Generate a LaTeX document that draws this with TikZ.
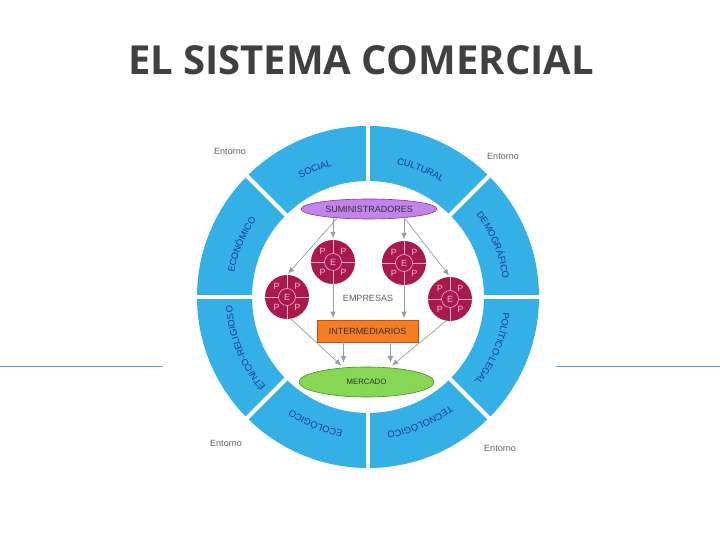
\documentclass[tikz,border=0pt]{standalone}
\usepackage{fontspec}
\setsansfont{Liberation Sans}
\newfontfamily\titlefont{Open Sans}
\usepackage{tikz}
\usepackage{xcolor}
\usetikzlibrary{arrows.meta,calc,shapes.geometric,decorations.text}
\definecolor{figTitle}{RGB}{64,64,64}
\definecolor{figRing}{RGB}{52,176,230}
\definecolor{figSeg}{RGB}{30,55,150}
\definecolor{figCrimson}{RGB}{170,25,75}
\definecolor{figPink}{RGB}{245,180,205}
\definecolor{figSumFill}{RGB}{196,130,235}
\definecolor{figSumDraw}{RGB}{120,60,160}
\definecolor{figInterFill}{RGB}{245,125,35}
\definecolor{figInterDraw}{RGB}{190,80,20}
\definecolor{figMercFill}{RGB}{135,215,85}
\definecolor{figMercDraw}{RGB}{70,140,40}
\definecolor{figArrow}{RGB}{155,155,165}
\definecolor{figRule}{RGB}{90,165,215}
\definecolor{figGray}{RGB}{95,95,95}

\begin{document}
\begin{tikzpicture}[
  x=1pt,
  y=1pt,
  >=Latex,
  font=\sffamily,
  empresa/.style={circle, fill=figCrimson, minimum size=44pt, inner sep=0pt},
  cross/.style={draw=figPink, line width=0.6pt},
  pletter/.style={text=figPink, inner sep=0pt, font=\sffamily\fontsize{9}{9}\selectfont},
  oval/.style={ellipse, line width=0.6pt, inner sep=0pt, text=black!80},
  entorno/.style={text=figGray, font=\sffamily\fontsize{9}{9}\selectfont},
  line/.style={-{Latex[length=6.5pt,width=5.5pt]}, draw=figArrow, line width=0.7pt, shorten >=1.5pt}
]
\useasboundingbox (0,0) rectangle (720,540);

% title
\node[anchor=base, text=figTitle, font=\titlefont\bfseries\fontsize{40}{40}\selectfont] (title) at (361,465) {EL SISTEMA COMERCIAL};

% side rules
\draw[figRule, line width=0.8pt] (0,174) -- (163,174);
\draw[figRule, line width=0.8pt] (556,174) -- (720,174);

% ring of the environment
\coordinate (c) at (368,243);
\fill[figRing, even odd rule] (c) circle[radius=171] (c) circle[radius=116];
\foreach \a in {0,45,...,315}
  \draw[white, line width=4pt] ($(c)+(\a:114)$) -- ($(c)+(\a:173)$);

\foreach \t/\m in {SOCIAL/112.5, CULTURAL/67.5, DEMOGRÁFICO/22.5, POLÍTICO-LEGAL/-22.5,
                   TECNOLÓGICO/-67.5, ECOLÓGICO/-112.5, ÉTNICO-RELIGIOSO/-157.5, ECONÓMICO/157.5}
  \path[decorate, decoration={text along path, text align=center,
      text={|\sffamily\fontsize{9.3}{9.3}\selectfont\color{figSeg}|\t}}]
    ($(c)+(\m+22.5:136)$) arc[start angle=\m+22.5, end angle=\m-22.5, radius=136];

\node[entorno] (ent1) at (230,389) {Entorno};
\node[entorno] (ent2) at (503,384) {Entorno};
\node[entorno] (ent3) at (226,97) {Entorno};
\node[entorno] (ent4) at (500,92) {Entorno};

% inner system
\node[oval, draw=figSumDraw, fill=figSumFill, minimum width=136pt, minimum height=20pt,
      font=\sffamily\fontsize{9}{9}\selectfont] (sum) at (369,331) {SUMINISTRADORES};

\foreach \n/\px/\py in {e1/333/278, e2/404/277, e3/287/243, e4/450/241} {
  \node[empresa] (\n) at (\px,\py) {};
  \draw[cross] (\n) circle[radius=8.5];
  \foreach \a in {0,90,180,270}
    \draw[cross] ($(\n)+(\a:8.5)$) -- ($(\n)+(\a:22)$);
  \foreach \a in {45,135,225,315}
    \node[pletter] (\n-p\a) at ($(\n)+(\a:14.5)$) {P};
  \node[pletter] (\n-e) at (\n) {E};
}

\node[text=figGray, font=\sffamily\fontsize{9}{9}\selectfont] (emp) at (368,242) {EMPRESAS};

\node[draw=figInterDraw, fill=figInterFill, line width=0.6pt, minimum width=101pt, minimum height=22pt,
      inner sep=0pt, text=black!80, font=\sffamily\fontsize{9}{9}\selectfont] (inter) at (367.5,209) {INTERMEDIARIOS};

\node[oval, draw=figMercDraw, fill=figMercFill, minimum width=135pt, minimum height=30pt,
      font=\sffamily\fontsize{7.8}{7.8}\selectfont] (merc) at (366.5,158) {MERCADO};

\coordinate (i1) at ([xshift=-24pt]inter.south);
\coordinate (i2) at ([xshift=23pt]inter.south);

\draw[line] (sum.196) -- (e3.north);
\draw[line] (sum.south -| e1.north) -- (e1.north);
\draw[line] (sum.south -| e2.north) -- (e2.north);
\draw[line] (sum.-14) -- (e4.north);

\draw[line] (e1.south) -- (e1.south |- inter.north);
\draw[line] (e2.south) -- (e2.south |- inter.north);

\draw[line, shorten >=4pt] (i1) -- (i1 |- merc.north);
\draw[line, shorten >=4pt] (i2) -- (i2 |- merc.north);
\draw[line, shorten >=3pt] (e3.-80) -- (merc.148);
\draw[line, shorten >=3pt] (e4.-100) -- (merc.32);
\end{tikzpicture}
\end{document}
